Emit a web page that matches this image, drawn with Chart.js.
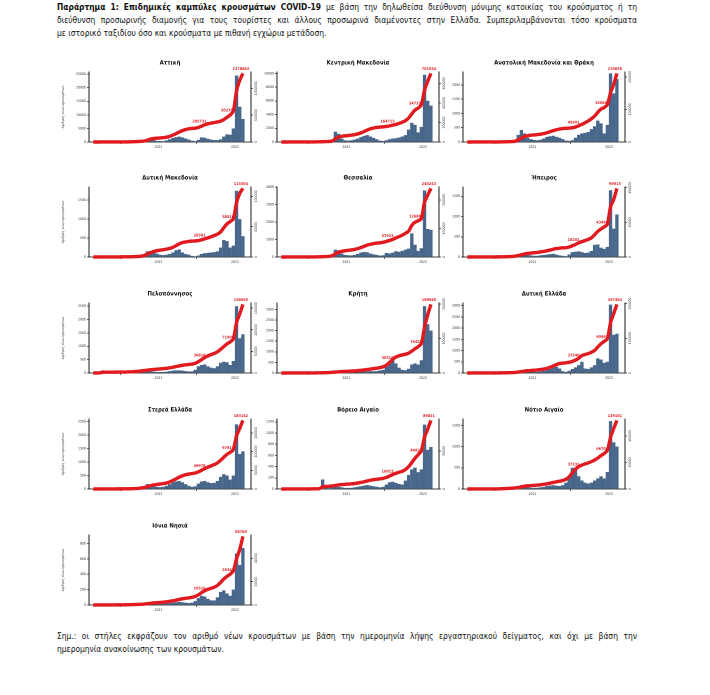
<!DOCTYPE html>
<html><head><meta charset="utf-8">
<script src="https://cdn.jsdelivr.net/npm/chart.js@4.4.0/dist/chart.umd.min.js"></script>
<style>
body{margin:0;background:#fff;width:710px;height:695px;position:relative;overflow:hidden;font-family:"DejaVu Sans Condensed","DejaVu Sans",sans-serif;color:#111;}
.txt{position:absolute;left:57px;width:580px;font-size:8.4px;line-height:13px;white-space:nowrap;}
.j{text-align:justify;text-align-last:justify;}
.panel{position:absolute;width:204px;height:100px;}
</style></head><body>
<div class="txt j" style="top:1px"><b>Παράρτημα 1: Επιδημικές καμπύλες κρουσμάτων COVID-19</b> με βάση την δηλωθείσα διεύθυνση μόνιμης κατοικίας του κρούσματος ή τη</div>
<div class="txt j" style="top:14px">διεύθυνση προσωρινής διαμονής για τους τουρίστες και άλλους προσωρινά διαμένοντες στην Ελλάδα. Συμπεριλαμβάνονται τόσο κρούσματα</div>
<div class="txt" style="top:27px">με ιστορικό ταξιδίου όσο και κρούσματα με πιθανή εγχώρια μετάδοση.</div>
<div class="txt j" style="top:630px">Σημ.: οι στήλες εκφράζουν τον αριθμό νέων κρουσμάτων με βάση την ημερομηνία λήψης εργαστηριακού δείγματος, και όχι με βάση την</div>
<div class="txt" style="top:643px">ημερομηνία ανακοίνωσης των κρουσμάτων.</div>
<div id="grid"></div>
<script>
// semi-monthly periods (a = first half, b = second half of month)
const periods = ['2020-02b','2020-03a','2020-03b','2020-04a','2020-04b','2020-05a','2020-05b','2020-06a','2020-06b','2020-07a','2020-07b','2020-08a','2020-08b','2020-09a','2020-09b','2020-10a','2020-10b','2020-11a','2020-11b','2020-12a','2020-12b',
'2021-01a','2021-01b','2021-02a','2021-02b','2021-03a','2021-03b','2021-04a','2021-04b','2021-05a','2021-05b','2021-06a','2021-06b','2021-07a','2021-07b','2021-08a','2021-08b','2021-09a','2021-09b','2021-10a','2021-10b','2021-11a','2021-11b','2021-12a','2021-12b',
'2022-01a','2022-01b','2022-02a'];
const xTickLabels = [2021, 2022];

// new cases per day
const attiki = [0,5,10,10,5,3,2,2,5,10,20,60,120,180, 150,200,400,1100,1300,700,400, 350,300,600,1000,1500,1800,2000,1700,1300,900,500,300,800,1700,1600,1200,900,700,700,1000,2000,2800,2700,5000, 24500,13000,8500];
const kentrikiMakedonia = [0,2,5,5,2,1,1,2,5,10,20,40,50,60, 70,100,300,1500,1200,500,250, 200,250,350,500,700,900,1000,800,600,400,200,150,250,400,500,550,650,800,1000,1800,2800,2500,1400,2200, 9800,6000,5300];
const anatolikiMakedoniaThraki = [0,1,3,3,2,1,1,1,2,3,5,10,15,20, 25,50,250,420,300,150,100, 70,60,80,120,180,200,220,180,150,100,50,40,60,150,250,300,320,350,450,550,750,650,300,600, 2400,1700,2200];
const dytikiMakedonia = [0,1,2,3,2,1,1,1,1,2,3,5,8,10, 15,30,80,150,160,120,90, 60,50,60,80,120,180,200,120,80,60,30,20,40,80,100,110,120,130,150,250,450,420,250,300, 1750,1000,550];
const thessalia = [0,1,2,3,2,1,1,1,2,3,5,10,15,20, 30,60,150,420,380,200,120, 100,90,120,180,250,290,270,200,150,120,80,100,230,200,250,330,300,350,420,480,1350,700,350,500, 3800,1600,1550];
const ipeiros = [0,1,2,2,1,0,0,1,1,2,3,5,8,10, 15,25,60,80,70,50,40, 30,30,40,50,60,70,80,60,40,30,20,60,120,130,140,120,100,110,150,300,310,230,200,250, 1650,700,1050];
const peloponnisos = [0,5,10,100,10,3,2,2,3,5,10,15,20,30, 40,50,60,70,60,50,40, 40,40,50,70,90,100,100,90,70,60,60,120,250,300,320,250,200,180,250,380,420,400,300,450, 2500,1300,1450];
const kriti = [0,1,2,2,1,0,0,1,2,3,5,8,10,12, 15,20,40,60,50,40,30, 30,30,40,50,60,70,80,90,80,90,120,150,300,500,600,450,250,150,130,200,400,450,400,600, 3150,2300,2000];
const dytikiEllada = [0,1,3,3,2,1,1,1,2,3,5,8,12,15, 20,30,60,100,90,70,50, 50,50,70,100,130,180,250,280,200,80,50,100,180,250,350,500,200,180,250,350,650,600,450,500, 3050,1700,1750];
const stereaEllada = [0,2,5,5,3,2,1,1,2,3,5,10,15,20, 30,50,100,180,160,120,80, 70,80,120,180,250,280,300,250,180,120,80,100,200,280,300,250,220,230,300,450,550,500,350,500, 2400,1300,1400];
const voreioAigaio = [0,1,2,2,1,0,0,0,1,2,3,5,10,170, 20,15,30,50,40,30,20, 20,20,30,40,50,60,70,60,50,40,30,40,80,120,130,110,90,80,150,250,350,380,300,350, 1150,700,750];
const notioAigaio = [0,1,2,2,1,0,0,0,1,3,8,15,20,25, 25,30,50,90,70,50,30, 30,30,40,50,70,80,90,80,70,90,150,300,500,450,300,200,150,130,150,200,250,300,250,400, 1600,1100,1000];
const ioniaNisia = [0,1,2,2,1,0,0,0,1,2,3,4,5,6, 6,8,10,20,25,20,15, 15,15,20,25,30,35,40,35,30,25,30,50,90,120,110,80,60,60,100,170,190,150,120,200, 670,520,740];

const regionNames = ['Αττική','Κεντρική Μακεδονία','Ανατολική Μακεδονία και Θράκη','Δυτική Μακεδονία','Θεσσαλία','Ήπειρος','Πελοπόννησος','Κρήτη','Δυτική Ελλάδα','Στερεά Ελλάδα','Βόρειο Αιγαίο','Νότιο Αιγαίο','Ιόνια Νησιά'];
const regionSeries = [attiki,kentrikiMakedonia,anatolikiMakedoniaThraki,dytikiMakedonia,thessalia,ipeiros,peloponnisos,kriti,dytikiEllada,stereaEllada,voreioAigaio,notioAigaio,ioniaNisia];
const leftAxisMax = [25800,10200,2450,1850,4000,1730,2620,3300,3120,2600,1250,1650,910];
const leftAxisStep = [5000,2000,500,500,1000,500,500,500,500,500,200,500,200];
const labelledPeriods = [34, 43, 47];
const yTitle = 'Αριθμός νέων κρουσμάτων';

const DAYS_PER_PERIOD = 365.25/24;
function periodToX(p){const y=+p.slice(0,4), m=+p.slice(5,7), h=p[7]; return y + (m-1 + (h==='a'?0.25:0.75))/12;}
const xs = periods.map(periodToX);

const BAR = '#48678a', RED = '#e01a1f';
const FONT = '"DejaVu Sans Condensed","DejaVu Sans",sans-serif';
const colLeft = [61, 249, 435], rowTop = [55, 170, 286, 402, 518];

const titlePlugin = {
  id:'panelTitle',
  afterDraw(chart, args, opts){
    const {ctx, chartArea:a} = chart;
    ctx.save(); ctx.font = 'bold 6px '+FONT; ctx.fillStyle='#111'; ctx.textAlign='center'; ctx.textBaseline='middle';
    ctx.fillText(opts.text, (a.left+a.right)/2, a.top-9); ctx.restore();
  }
};
const rightLabelsPlugin = {
  id:'rightLabels',
  afterDraw(chart){
    const s = chart.scales.y2, ctx = chart.ctx;
    ctx.save(); ctx.font = '3.5px '+FONT; ctx.fillStyle='#333'; ctx.textAlign='center'; ctx.textBaseline='middle';
    s.ticks.forEach(t=>{
      const y = s.getPixelForValue(t.value);
      ctx.save(); ctx.translate(s.left+5, y); ctx.rotate(-Math.PI/2); ctx.fillText(String(Math.round(t.value)),0,0); ctx.restore();
    });
    ctx.restore();
  }
};
const lineLabelPlugin = {
  id:'lineLabels',
  afterDatasetsDraw(chart){
    const meta = chart.getDatasetMeta(1), ds = chart.data.datasets[1];
    const ctx = chart.ctx; ctx.save(); ctx.font='bold 3.8px '+FONT; ctx.fillStyle=RED; ctx.textAlign='center'; ctx.textBaseline='bottom';
    labelledPeriods.forEach(i=>{const pt=meta.data[i]; ctx.fillText(String(Math.round(ds.data[i].y)), pt.x-2, pt.y-2.5);});
    ctx.restore();
  }
};

regionNames.forEach((name, k)=>{
  const c = k%3, r = Math.floor(k/3);
  const div = document.createElement('div'); div.className='panel';
  div.style.left = colLeft[c]+'px'; div.style.top = rowTop[r]+'px';
  const cv = document.createElement('canvas'); cv.width=204; cv.height=100; div.appendChild(cv);
  document.getElementById('grid').appendChild(div);
  const vals = regionSeries[k];
  let run = 0; const cum = vals.map(v=> (run += v*DAYS_PER_PERIOD));
  const cumMax = cum[cum.length-1];
  const tickFont = {size:3.5, family:FONT};
  const yStep = leftAxisStep[k], yMax = leftAxisMax[k];
  new Chart(cv, {
    data:{datasets:[
      {type:'bar', data: xs.map((x,i)=>({x, y:vals[i]})), backgroundColor:BAR, borderWidth:0, barPercentage:1.05, categoryPercentage:1, yAxisID:'y', order:1},
      {type:'line', data: xs.map((x,i)=>({x, y:cum[i]})), borderColor:RED, borderWidth:3.4, pointRadius:0, tension:0.3, yAxisID:'y2', order:0, clip:false}
    ]},
    options:{
      responsive:false, animation:false, devicePixelRatio: 2,
      layout:{padding:{top:17,bottom:3,left:0,right:0}},
      plugins:{legend:{display:false}, tooltip:{enabled:false}, panelTitle:{text:name}},
      scales:{
        x:{type:'linear', min:2020.09, max:2022.21, offset:false,
           afterBuildTicks: ax=>{ax.ticks = xTickLabels.map(v=>({value:v}));},
           afterFit: ax=>{ax.height=10;},
           ticks:{font:tickFont, color:'#333', padding:1, maxRotation:0, callback:v=>String(v)},
           grid:{drawOnChartArea:false, tickLength:2, color:'#000', lineWidth:0.6},
           border:{color:'#000', width:0.8}},
        y:{position:'left', min:0, max:yMax,
           afterBuildTicks: ax=>{const t=[]; for(let v=0; v<=yMax; v+=yStep) t.push({value:v}); ax.ticks=t;},
           afterFit: ax=>{ax.width=28;},
           ticks:{font:tickFont, color:'#333', padding:1, callback:v=>String(v)},
           grid:{drawOnChartArea:false, tickLength:2, color:'#000', lineWidth:0.6},
           border:{color:'#000', width:0.9},
           title:{display: c===0, text:yTitle, font:{size:3.5, family:FONT}, color:'#444', padding:0}},
        y2:{position:'right', min:0, max:cumMax*1.02,
           afterFit: ax=>{ax.width=14;},
           ticks:{display:false, maxTicksLimit:5, includeBounds:false},
           grid:{drawOnChartArea:false, tickLength:2, color:'#000', lineWidth:0.6},
           border:{color:'#000', width:0.9}}
      }
    },
    plugins:[titlePlugin, rightLabelsPlugin, lineLabelPlugin]
  });
});
</script>
</body></html>
